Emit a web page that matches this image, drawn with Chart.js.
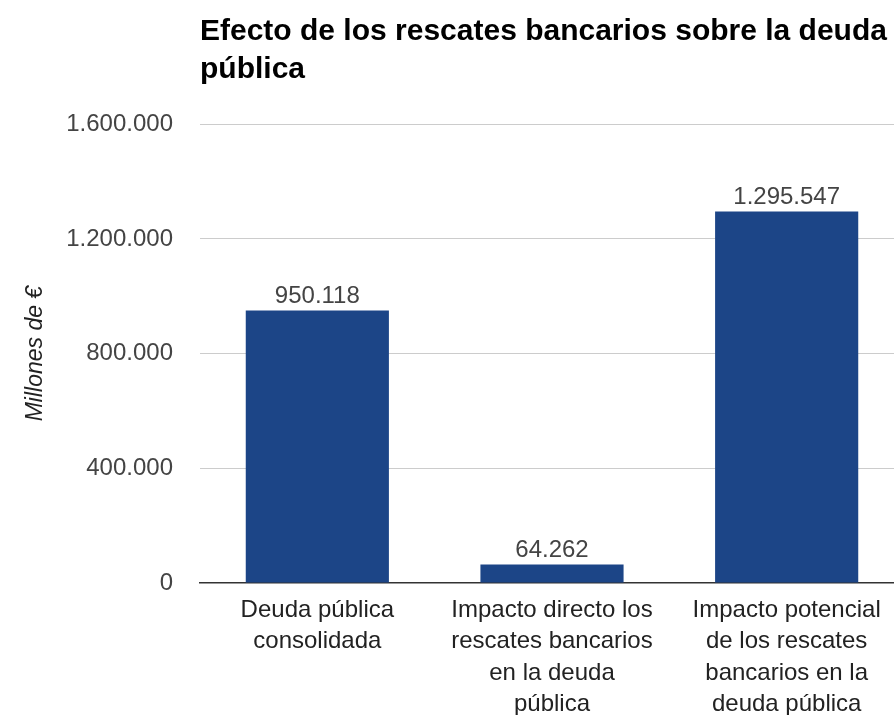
<!DOCTYPE html>
<html>
<head>
<meta charset="utf-8">
<script src="https://cdn.jsdelivr.net/npm/chart.js@4"></script>
<style>
  html, body { margin: 0; padding: 0; background: #fff; overflow: hidden; }
  #wrap { position: absolute; left: 0; top: 0; width: 904px; height: 715px; }
</style>
</head>
<body>
<div id="wrap"><canvas id="c"></canvas></div>
<script>
const titleLines = ["Efecto de los rescates bancarios sobre la deuda", "pública"];
const yAxisTitle = "Millones de €";
const categories = [
  ["Deuda pública", "consolidada"],
  ["Impacto directo los", "rescates bancarios", "en la deuda", "pública"],
  ["Impacto potencial", "de los rescates", "bancarios en la", "deuda pública"]
];
const values = [950118, 64262, 1295547];
const yMin = 0;
const yMax = 1600000;
const yStep = 400000;

function fmt(n) {
  return String(Math.round(n)).replace(/\B(?=(\d{3})+(?!\d))/g, ".");
}

const FONT = "'Liberation Sans', Arial, sans-serif";

const dataLabels = {
  id: 'dataLabels',
  afterDatasetsDraw(chart) {
    const ctx = chart.ctx;
    const meta = chart.getDatasetMeta(0);
    ctx.save();
    ctx.font = "24px " + FONT;
    ctx.fillStyle = "#444";
    ctx.textAlign = "center";
    ctx.textBaseline = "alphabetic";
    meta.data.forEach((bar, i) => {
      ctx.fillText(fmt(values[i]), bar.x, bar.y - 8);
    });
    ctx.restore();
  }
};

new Chart(document.getElementById('c'), {
  type: 'bar',
  data: {
    labels: categories,
    datasets: [{
      data: values,
      backgroundColor: '#1c4587',
      borderWidth: 0,
      categoryPercentage: 1,
      barPercentage: 0.61
    }]
  },
  options: {
    responsive: true,
    maintainAspectRatio: false,
    animation: false,
    layout: { padding: { left: 0, right: 0, top: 0, bottom: 0 } },
    plugins: {
      legend: { display: false },
      tooltip: { enabled: false },
      title: {
        display: true,
        text: titleLines,
        align: 'start',
        fullSize: false,
        color: '#000',
        font: { family: FONT, size: 30, weight: 'bold', lineHeight: 1.27 },
        padding: { top: 13, bottom: 35 }
      }
    },
    scales: {
      x: {
        afterFit(scale) { scale.height = 132; },
        grid: { display: false, drawTicks: false },
        border: { display: true, color: '#333', width: 1.5 },
        ticks: {
          color: '#222',
          padding: 12,
          maxRotation: 0,
          autoSkip: false,
          font: { family: FONT, size: 24, lineHeight: 1.3 }
        }
      },
      y: {
        min: yMin,
        max: yMax,
        afterFit(scale) { scale.width = 200; },
        grid: {
          drawTicks: false,
          color: (c) => (c.tick && c.tick.value === 0) ? 'rgba(0,0,0,0)' : '#cccccc'
        },
        border: { display: false },
        ticks: {
          stepSize: yStep,
          color: '#444',
          padding: 27,
          font: { family: FONT, size: 24 },
          callback: (v) => fmt(v)
        },
        title: {
          display: true,
          text: yAxisTitle,
          color: '#222',
          font: { family: FONT, size: 23, style: 'italic' },
          padding: { top: 22, bottom: 0 }
        }
      }
    }
  },
  plugins: [dataLabels]
});
</script>
</body>
</html>
